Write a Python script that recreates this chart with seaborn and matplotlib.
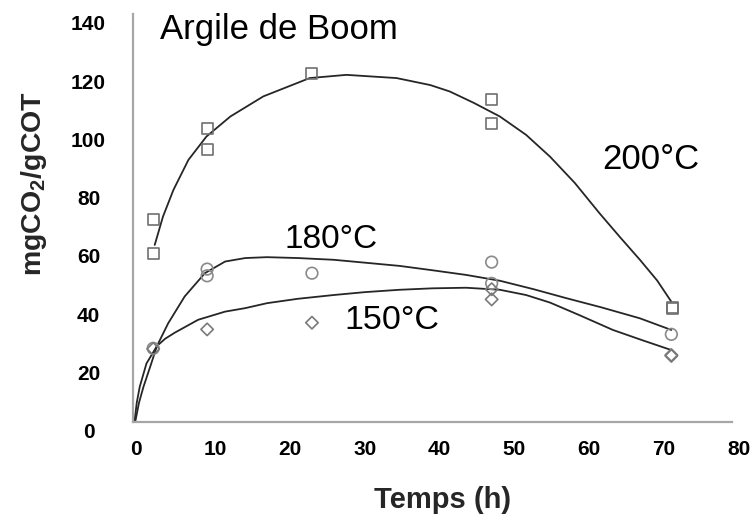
import matplotlib
matplotlib.use("Agg")
import matplotlib.pyplot as plt
import matplotlib.transforms as mtransforms
import seaborn as sns
import pandas as pd
import numpy as np

# ---- data ----
sq_x = [2.7, 2.7, 9.9, 9.9, 23.9, 47.9, 47.9, 72.0, 72.0]
sq_y = [69.4, 57.6, 100.8, 93.4, 119.5, 110.5, 102.5, 39.2, 38.8]

circ_x = [2.7, 9.9, 9.9, 23.9, 47.9, 47.9, 71.9]
circ_y = [25.2, 52.4, 50.1, 51.0, 54.8, 47.5, 30.0]

diam_x = [2.7, 9.9, 23.9, 47.9, 47.9, 71.9, 71.9]
diam_y = [25.0, 31.7, 34.0, 45.5, 42.0, 22.6, 22.9]

# trend curves
c200_x = [2.9, 4.0, 5.4, 7.4, 9.8, 13.0, 17.4, 23.6, 28.5, 35.2, 39.7, 42.3,
          45.5, 49.0, 52.5, 55.7, 59.0, 62.3, 65.0, 67.7, 70.0, 71.9]
c200_y = [60.7, 70.4, 79.6, 89.9, 97.9, 104.8, 111.7, 118.0, 119.1, 118.0, 115.6, 113.4,
          109.5, 104.8, 98.5, 91.0, 82.0, 71.6, 63.5, 55.6, 48.5, 41.2]

c180_x = [0.3, 0.8, 1.4, 2.3, 3.2, 4.7, 6.9, 9.6, 12.3, 15.0, 17.9, 22.0, 26.8,
          31.0, 35.6, 40.0, 44.5, 49.0, 53.5, 57.9, 62.5, 67.7, 71.9]
c180_y = [0.0, 6.5, 12.0, 18.9, 26.0, 33.8, 43.0, 51.0, 55.0, 56.2, 56.5, 56.2, 55.6,
          54.6, 53.5, 52.0, 50.4, 48.4, 45.5, 42.4, 39.3, 35.5, 31.5]

c150_x = [0.2, 0.5, 0.9, 1.8, 3.2, 4.3, 5.6, 8.7, 12.3, 15.0, 17.9, 22.0, 26.8,
          31.0, 35.6, 40.0, 44.5, 49.0, 52.5, 55.7, 59.7, 64.1, 68.0, 71.9]
c150_y = [0.0, 6.5, 12.0, 20.0, 26.0, 28.5, 30.6, 35.0, 37.8, 39.0, 40.7, 42.2, 43.5,
          44.5, 45.3, 45.8, 46.0, 45.3, 43.5, 40.9, 36.5, 31.5, 28.0, 24.6]

x_ticks = [0, 10, 20, 30, 40, 50, 60, 70, 80]
y_ticks = [0, 20, 40, 60, 80, 100, 120, 140]

labels = {"title": "Argile de Boom", "t200": "200°C", "t180": "180°C", "t150": "150°C"}

# ---- style ----
sns.set_theme(style="white")
plt.rcParams["font.family"] = ["Liberation Sans", "DejaVu Sans"]

fig = plt.figure(figsize=(7.56, 5.21), dpi=100)
ax = fig.add_axes([133 / 756, 1 - 421.7 / 521, (732 - 133) / 756, (421.7 - 14) / 521])

line_kw = dict(color="#262626", linewidth=1.3, sort=False, estimator=None, ax=ax, legend=False)
sns.lineplot(x=c200_x, y=c200_y, **line_kw)
sns.lineplot(x=c180_x, y=c180_y, **line_kw)
sns.lineplot(x=c150_x, y=c150_y, **line_kw)

mk = dict(facecolor="none", linewidth=1.2, ax=ax, legend=False, zorder=3)
sns.scatterplot(x=sq_x, y=sq_y, marker="s", s=62, edgecolor="#707070", **mk)
sns.scatterplot(x=circ_x, y=circ_y, marker="o", s=70, edgecolor="#8a8a8a", **mk)
sns.scatterplot(x=diam_x, y=diam_y, marker="D", s=40, edgecolor="#7a7a7a", **mk)

ax.set_xlim(0, 80)
ax.set_ylim(0, 140)
ax.set_xticks(x_ticks)
ax.set_yticks(y_ticks)
ax.set_xticklabels([str(v) for v in x_ticks])
ax.set_yticklabels([str(v) for v in y_ticks])

for side in ["top", "right"]:
    ax.spines[side].set_visible(False)
for side in ["left", "bottom"]:
    ax.spines[side].set_color("#a6a6a6")
    ax.spines[side].set_linewidth(1.6)

ax.tick_params(axis="both", which="major", direction="out", length=5, width=1.4,
               color="#a6a6a6", labelsize=15, labelcolor="black")
ax.tick_params(axis="y", pad=27)
ax.tick_params(axis="x", pad=8)
for t in ax.get_yticklabels():
    t.set_fontweight("bold")
    t.set_ha("center")
    t.set_transform(t.get_transform() + mtransforms.ScaledTranslation(0, -9 / 100, fig.dpi_scale_trans))
for i, t in enumerate(ax.get_xticklabels()):
    t.set_fontweight("bold")
    dx = 3 if i == 0 else 7
    t.set_transform(t.get_transform() + mtransforms.ScaledTranslation(dx / 100, 0, fig.dpi_scale_trans))

ax.set_xlabel("Temps (h)", fontsize=21, fontweight="bold", labelpad=14)
ax.set_ylabel(r"mgCO$_\mathregular{2}$/gCOT", fontsize=20.5, fontweight="bold", labelpad=14)
ax.xaxis.set_label_coords((442.5 - 133) / (732 - 133), -(500 - 421.7) / (421.7 - 14))
ax.yaxis.set_label_coords(-(133 - 34) / (732 - 133), (421.7 - 184) / (421.7 - 14))
ax.xaxis.label.set_va("center")
ax.yaxis.label.set_va("center")

ax.text(3.6, 134.6, labels["title"], fontsize=25, ha="left", va="center", color="black")
ax.text(69.2, 89.9, labels["t200"], fontsize=25, ha="center", va="center", color="black")
ax.text(26.4, 62.4, labels["t180"], fontsize=24, ha="center", va="center", color="black")
ax.text(34.6, 34.9, labels["t150"], fontsize=24.5, ha="center", va="center", color="black")

fig.savefig("out.png", dpi=100, facecolor="white")
